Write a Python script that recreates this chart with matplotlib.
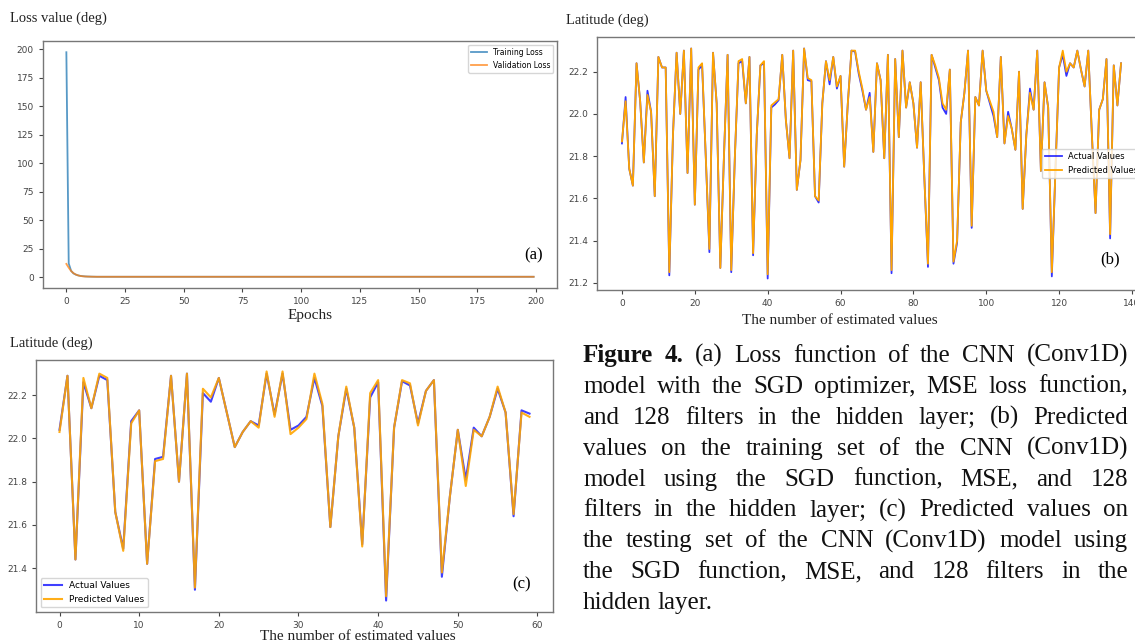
import matplotlib
matplotlib.use('Agg')
import matplotlib.pyplot as plt

W, H = 1135, 643

# (a) loss curves
epochs = list(range(200))
train_loss = [197.5, 12.0, 5.5, 3.2, 2.1, 1.4, 0.95, 0.7, 0.5, 0.4, 0.32, 0.27] + [0.2] * 188
val_loss = [11.5, 8.2, 5.3, 3.4, 2.2, 1.4, 0.9, 0.6, 0.45, 0.35, 0.3, 0.25] + [0.2] * 188

# (b) training set
train_actual = [21.86, 22.08, 21.74, 21.66, 22.24, 22.06, 21.77, 22.11, 22.01, 21.61,
                22.27, 22.22, 22.22, 21.235, 21.90, 22.29, 22.00, 22.30, 21.72, 22.31,
                21.57, 22.21, 22.23, 21.80, 21.345, 22.29, 22.05, 21.27, 21.80, 22.28,
                21.25, 21.80, 22.24, 22.25, 22.05, 22.27, 21.33, 21.90, 22.23, 22.24,
                21.22, 22.03, 22.045, 22.065, 22.28, 21.97, 21.79, 22.30, 21.64, 21.78,
                22.31, 22.16, 22.155, 21.61, 21.58, 22.05, 22.25, 22.14, 22.27, 22.12,
                22.18, 21.75, 22.05, 22.30, 22.295, 22.19, 22.11, 22.02, 22.10, 21.82,
                22.24, 22.16, 21.79, 22.28, 21.245, 22.26, 21.89, 22.30, 22.03, 22.15,
                22.05, 21.84, 22.15, 21.70, 21.275, 22.28, 22.22, 22.16, 22.03, 22.00,
                22.21, 21.29, 21.39, 21.96, 22.10, 22.30, 21.46, 22.08, 22.04, 22.30,
                22.11, 22.05, 21.99, 21.89, 22.27, 21.86, 22.01, 21.93, 21.83, 22.20,
                21.55, 21.90, 22.12, 22.02, 22.30, 21.73, 22.15, 22.03, 21.23, 21.74,
                22.22, 22.28, 22.18, 22.24, 22.22, 22.30, 22.21, 22.13, 22.30, 21.90,
                21.53, 22.02, 22.07, 22.26, 21.41, 22.23, 22.04, 22.24]
train_pred = [21.87, 22.06, 21.74, 21.66, 22.24, 22.06, 21.77, 22.09, 22.01, 21.61,
              22.27, 22.22, 22.22, 21.25, 21.90, 22.29, 22.00, 22.30, 21.72, 22.31,
              21.57, 22.22, 22.24, 21.80, 21.36, 22.29, 22.05, 21.27, 21.80, 22.28,
              21.26, 21.80, 22.25, 22.26, 22.05, 22.27, 21.34, 21.90, 22.23, 22.25,
              21.24, 22.04, 22.055, 22.07, 22.28, 21.97, 21.79, 22.30, 21.64, 21.78,
              22.31, 22.17, 22.16, 21.61, 21.59, 22.05, 22.25, 22.16, 22.27, 22.13,
              22.18, 21.75, 22.05, 22.30, 22.30, 22.20, 22.12, 22.02, 22.08, 21.82,
              22.24, 22.16, 21.79, 22.28, 21.26, 22.26, 21.89, 22.30, 22.03, 22.15,
              22.05, 21.84, 22.15, 21.70, 21.29, 22.28, 22.23, 22.17, 22.05, 22.02,
              22.21, 21.30, 21.40, 21.96, 22.10, 22.30, 21.47, 22.08, 22.04, 22.30,
              22.11, 22.06, 22.01, 21.89, 22.27, 21.86, 21.99, 21.93, 21.83, 22.20,
              21.55, 21.90, 22.10, 22.02, 22.30, 21.73, 22.15, 22.03, 21.25, 21.74,
              22.22, 22.30, 22.20, 22.24, 22.22, 22.30, 22.21, 22.13, 22.30, 21.90,
              21.53, 22.02, 22.07, 22.26, 21.43, 22.23, 22.04, 22.24]

# (c) testing set
test_actual = [22.04, 22.29, 21.44, 22.26, 22.14, 22.29, 22.27, 21.66, 21.49, 22.08,
               22.13, 21.42, 21.905, 21.915, 22.29, 21.80, 22.30, 21.30, 22.21, 22.17,
               22.28, 22.12, 21.96, 22.03, 22.08, 22.06, 22.30, 22.11, 22.30, 22.04,
               22.06, 22.10, 22.28, 22.15, 21.59, 22.01, 22.23, 22.05, 21.51, 22.19,
               22.26, 21.25, 22.05, 22.265, 22.245, 22.07, 22.22, 22.27, 21.36, 21.73,
               22.04, 21.81, 22.05, 22.01, 22.10, 22.23, 22.12, 21.64, 22.13, 22.115]
test_pred = [22.03, 22.29, 21.44, 22.28, 22.14, 22.30, 22.28, 21.66, 21.48, 22.07,
             22.13, 21.42, 21.895, 21.905, 22.29, 21.80, 22.30, 21.31, 22.23, 22.19,
             22.28, 22.12, 21.96, 22.03, 22.08, 22.05, 22.31, 22.10, 22.31, 22.02,
             22.05, 22.09, 22.30, 22.16, 21.59, 22.01, 22.24, 22.05, 21.50, 22.21,
             22.27, 21.27, 22.05, 22.27, 22.255, 22.06, 22.22, 22.27, 21.38, 21.73,
             22.04, 21.78, 22.04, 22.01, 22.10, 22.24, 22.12, 21.65, 22.12, 22.10]

caption_lines = [
    "Figure 4. (a) Loss function of the CNN (Conv1D)",
    "model with the SGD optimizer, MSE loss function,",
    "and 128 filters in the hidden layer; (b) Predicted",
    "values on the training set of the CNN (Conv1D)",
    "model using the SGD function, MSE, and 128",
    "filters in the hidden layer; (c) Predicted values on",
    "the testing set of the CNN (Conv1D) model using",
    "the SGD function, MSE, and 128 filters in the",
    "hidden layer.",
]

SERIF = 'Liberation Serif'
TICK_FS = 6.5


def box(l, t, r, b):
    # pixel box -> figure fraction
    return [l / W, 1 - b / H, (r - l) / W, (b - t) / H]


def style(ax):
    for s in ax.spines.values():
        s.set_color('#777777')
        s.set_linewidth(1.0)
    ax.tick_params(labelsize=TICK_FS, colors='#444444', length=3, width=0.8)


fig = plt.figure(figsize=(W / 100, H / 100), dpi=100)

# ---- (a)
ax_a = fig.add_axes(box(43, 41, 557, 288))
ax_a.plot(epochs, train_loss, color='#1f77b4', lw=1.3, alpha=0.75, label='Training Loss')
ax_a.plot(epochs, val_loss, color='#ff7f0e', lw=1.3, alpha=0.75, label='Validation Loss')
ax_a.set_yticks([0, 25, 50, 75, 100, 125, 150, 175, 200])
ax_a.set_xticks([0, 25, 50, 75, 100, 125, 150, 175, 200])
style(ax_a)
ax_a.legend(loc='upper right', fontsize=5.5, framealpha=0.8)
ax_a.text(0.955, 0.13, '(a)', transform=ax_a.transAxes, family=SERIF, fontsize=12,
          ha='center', va='center')
fig.text(10 / W, 1 - 18 / H, 'Loss value (deg)', family=SERIF, fontsize=10.5,
         va='center', color='#222222')
fig.text(310 / W, 1 - 316 / H, 'Epochs', family=SERIF, fontsize=11,
         ha='center', va='center', color='#222222')

# ---- (b)
ax_b = fig.add_axes(box(597, 37, 1146, 290))
xb = list(range(len(train_actual)))
ax_b.plot(xb, train_actual, color='blue', lw=1.3, alpha=0.8, label='Actual Values')
ax_b.plot(xb, train_pred, color='orange', lw=1.3, label='Predicted Values')
ax_b.set_yticks([21.2, 21.4, 21.6, 21.8, 22.0, 22.2])
ax_b.set_xticks([0, 20, 40, 60, 80, 100, 120, 140])
style(ax_b)
ax_b.legend(loc='center right', fontsize=6, framealpha=0.8)
ax_b.text(0.935, 0.12, '(b)', transform=ax_b.transAxes, family=SERIF, fontsize=12,
          ha='center', va='center')
fig.text(566 / W, 1 - 20 / H, 'Latitude (deg)', family=SERIF, fontsize=10.5,
         va='center', color='#222222')
fig.text(840 / W, 1 - 320 / H, 'The number of estimated values', family=SERIF,
         fontsize=11, ha='center', va='center', color='#222222')

# ---- (c)
ax_c = fig.add_axes(box(36, 360, 553, 612))
xc = list(range(len(test_actual)))
ax_c.plot(xc, test_actual, color='blue', lw=1.5, alpha=0.75, label='Actual Values')
ax_c.plot(xc, test_pred, color='orange', lw=1.5, alpha=0.9, label='Predicted Values')
ax_c.set_yticks([21.4, 21.6, 21.8, 22.0, 22.2])
ax_c.set_xticks([0, 10, 20, 30, 40, 50, 60])
style(ax_c)
ax_c.legend(loc='lower left', fontsize=6.5, framealpha=0.8)
ax_c.text(0.94, 0.11, '(c)', transform=ax_c.transAxes, family=SERIF, fontsize=12,
          ha='center', va='center')
fig.text(10 / W, 1 - 343 / H, 'Latitude (deg)', family=SERIF, fontsize=10.5,
         va='center', color='#222222')
fig.text(358 / W, 1 - 636 / H, 'The number of estimated values', family=SERIF,
         fontsize=11, ha='center', va='center', color='#222222')

# ---- caption, justified by hand
cap_x0, cap_x1 = 583, 1128
cap_base0, cap_dy = 362, 30.9
cap_fs = 18
fig.canvas.draw()
r = fig.canvas.get_renderer()
for k, line in enumerate(caption_lines):
    y = 1 - (cap_base0 + k * cap_dy) / H
    items = []
    for j, w in enumerate(line.split()):
        bold = (k == 0 and j < 2)
        t = fig.text(0, y, w, family=SERIF, fontsize=cap_fs, va='baseline',
                     weight='bold' if bold else 'normal', color='#111111')
        items.append((t, t.get_window_extent(r).width))
    total = sum(wd for _, wd in items)
    if k < len(caption_lines) - 1:
        gap = (cap_x1 - cap_x0 - total) / (len(items) - 1)
    else:
        gap = cap_fs * 100 / 72 * 0.25
    x = cap_x0
    for t, wd in items:
        t.set_x(x / W)
        x += wd + gap

fig.savefig('out.png', dpi=100)
